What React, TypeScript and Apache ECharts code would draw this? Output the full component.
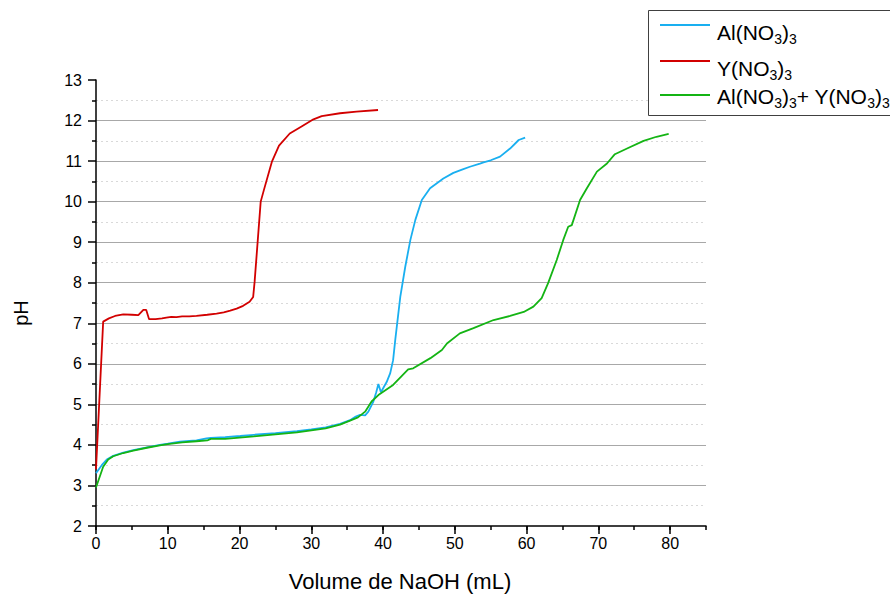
import React, { useEffect, useRef } from 'react';
import * as echarts from 'echarts';

const FONT = "'Liberation Sans', Arial, sans-serif";

// Al(NO3)3 titration
const alVol = [0, 0.8, 1.5, 2.4, 3.8, 5.2, 7.1, 8.9, 10, 11.7, 13, 14, 15.4, 16, 18, 20.1, 22, 25, 28, 30, 32, 34, 35.4, 36.2, 36.8, 37.5, 37.95, 38.65, 39.05, 39.35, 39.7, 40.5, 41.0, 41.4, 41.7, 42.4, 43.1, 43.8, 44.5, 45.4, 46.55, 48.4, 49.8, 51, 52.1, 53.5, 54.0, 55, 56.3, 57.7, 58.9, 59.8];
const alPH = [3.3, 3.5, 3.64, 3.73, 3.81, 3.87, 3.94, 4.0, 4.03, 4.08, 4.1, 4.11, 4.16, 4.17, 4.19, 4.22, 4.25, 4.29, 4.34, 4.38, 4.43, 4.52, 4.61, 4.7, 4.74, 4.73, 4.82, 5.07, 5.3, 5.5, 5.3, 5.55, 5.77, 6.09, 6.59, 7.65, 8.4, 9.05, 9.55, 10.04, 10.33, 10.57, 10.71, 10.79, 10.86, 10.94, 10.97, 11.02, 11.11, 11.31, 11.52, 11.58];

// Y(NO3)3 titration
const yVol = [0, 1.0, 1.8, 2.65, 3.8, 5.0, 5.9, 6.6, 7.0, 7.4, 8.3, 9.2, 9.8, 10.5, 11.2, 12, 13, 14.0, 15.5, 16.8, 17.8, 18.7, 19.6, 20.5, 21.4, 21.9, 22.1, 22.95, 23.4, 24.5, 25.5, 27.0, 28.7, 30.3, 31.45, 34.0, 36.3, 39.3];
const yPH = [3.4, 7.04, 7.12, 7.18, 7.22, 7.21, 7.2, 7.33, 7.33, 7.1, 7.1, 7.12, 7.14, 7.16, 7.15, 7.17, 7.17, 7.18, 7.21, 7.24, 7.27, 7.31, 7.36, 7.43, 7.53, 7.65, 8.02, 10.0, 10.29, 10.98, 11.38, 11.68, 11.86, 12.03, 12.11, 12.18, 12.22, 12.26];

// Al(NO3)3 + Y(NO3)3 titration
const mixVol = [0, 1.0, 1.7, 2.4, 3.8, 5.2, 7.1, 8.9, 10, 12, 14, 15.5, 16, 18, 20, 22, 25, 28, 30, 32, 34, 35.4, 36.5, 37.5, 38.4, 39.35, 41.4, 43.5, 44.2, 46.6, 48.2, 48.9, 50.7, 52.6, 55.4, 57.7, 59.6, 60.95, 62.1, 63.0, 64.2, 65.1, 65.8, 66.3, 67.45, 68.4, 69.8, 71.2, 72.3, 74.0, 76.3, 78.1, 79.8];
const mixPH = [2.95, 3.46, 3.64, 3.72, 3.8, 3.86, 3.93, 3.99, 4.02, 4.06, 4.09, 4.11, 4.15, 4.15, 4.18, 4.21, 4.26, 4.31, 4.36, 4.41, 4.5, 4.6, 4.68, 4.82, 5.07, 5.23, 5.48, 5.86, 5.89, 6.14, 6.34, 6.5, 6.75, 6.88, 7.08, 7.18, 7.28, 7.41, 7.62, 7.99, 8.56, 9.05, 9.38, 9.42, 10.04, 10.33, 10.74, 10.94, 11.17, 11.31, 11.5, 11.6, 11.67];

const xTickValues = [0, 10, 20, 30, 40, 50, 60, 70, 80];
const yTickValues = [2, 3, 4, 5, 6, 7, 8, 9, 10, 11, 12, 13];

const seriesNames = ['Al(NO3)3', 'Y(NO3)3', 'Al(NO3)3+ Y(NO3)3'];
const legendRich = ['Al(NO{s|3}){s|3}', 'Y(NO{s|3}){s|3}', 'Al(NO{s|3}){s|3}+ Y(NO{s|3}){s|3}'];
const colors = ['#19AFF0', '#D20000', '#14B414'];

export default function App() {
  const ref = useRef<HTMLDivElement>(null);
  useEffect(() => {
    const chart = echarts.init(ref.current!, null, { renderer: 'svg' });
    const pairs = (xs: number[], ys: number[]) => xs.map((x, i) => [x, ys[i]]);
    const gridColors = yTickValues.map((v) => (v === 2 || v === 13 ? 'rgba(0,0,0,0)' : '#a8a8a8'));
    const axisLineStyle = { color: '#000', width: 1.5 };
    const legendY = [25, 61, 95];
    const textY = [32, 68, 96];
    const legendGraphics: any[] = [
      {
        type: 'rect',
        shape: { x: 648.5, y: 10.5, width: 300, height: 105 },
        style: { fill: '#fff', stroke: '#404040', lineWidth: 1 },
        z: 10,
      },
    ];
    seriesNames.forEach((_, i) => {
      legendGraphics.push({
        type: 'line',
        shape: { x1: 660, y1: legendY[i], x2: 710, y2: legendY[i] },
        style: { stroke: colors[i], lineWidth: 2 },
        z: 11,
      });
      legendGraphics.push({
        type: 'text',
        x: 717,
        y: textY[i],
        style: {
          text: legendRich[i],
          fontSize: 21,
          fontFamily: FONT,
          fill: '#000',
          lineHeight: 28,
          verticalAlign: 'middle',
          align: 'left',
          rich: {
            s: { fontSize: 14, lineHeight: 14, verticalAlign: 'bottom', fontFamily: FONT, fill: '#000' },
          },
        },
        z: 11,
      });
    });

    chart.setOption({
      animation: false,
      backgroundColor: '#fff',
      grid: { left: 96, top: 80, width: 610, height: 446, containLabel: false },
      xAxis: [
        {
          type: 'value',
          min: 0,
          max: 85,
          interval: 5,
          axisLine: { show: true, onZero: false, lineStyle: axisLineStyle },
          axisTick: { show: true, length: 4, lineStyle: axisLineStyle },
          axisLabel: {
            fontSize: 16,
            color: '#000',
            fontFamily: FONT,
            margin: 9,
            formatter: (v: number) => (xTickValues.indexOf(v) >= 0 ? String(v) : ''),
          },
          splitLine: { show: false },
        },
        {
          type: 'value',
          min: 0,
          max: 85,
          interval: 10,
          position: 'bottom',
          axisLine: { show: false },
          axisTick: { show: true, length: 8, lineStyle: axisLineStyle, customValues: xTickValues },
          axisLabel: { show: false },
          splitLine: { show: false },
        },
      ],
      yAxis: {
        type: 'value',
        min: 2,
        max: 13,
        interval: 1,
        axisLine: { show: true, onZero: false, lineStyle: axisLineStyle },
        axisTick: { show: true, length: 8, lineStyle: axisLineStyle },
        minorTick: { show: true, splitNumber: 2, length: 4, lineStyle: axisLineStyle },
        axisLabel: { fontSize: 16, color: '#000', fontFamily: FONT, margin: 14 },
        splitLine: { show: true, lineStyle: { color: gridColors, width: 1 } },
        minorSplitLine: { show: true, lineStyle: { color: '#d9d9d9', width: 1, type: [2, 3] } },
      },
      series: [
        { name: seriesNames[0], data: pairs(alVol, alPH), color: colors[0] },
        { name: seriesNames[1], data: pairs(yVol, yPH), color: colors[1] },
        { name: seriesNames[2], data: pairs(mixVol, mixPH), color: colors[2] },
      ].map((s) => ({
        ...s,
        type: 'line',
        xAxisIndex: 0,
        showSymbol: false,
        symbol: 'none',
        lineStyle: { width: 1.8, color: s.color },
      })),
      graphic: [
        ...legendGraphics,
        {
          type: 'text',
          x: 21,
          y: 313,
          rotation: Math.PI / 2,
          style: { text: 'pH', fontSize: 20, fontFamily: FONT, fill: '#000', align: 'center', verticalAlign: 'middle' },
        },
        {
          type: 'text',
          x: 400,
          y: 581,
          style: {
            text: 'Volume de NaOH (mL)',
            fontSize: 22,
            fontFamily: FONT,
            fill: '#000',
            align: 'center',
            verticalAlign: 'middle',
          },
        },
      ],
    });
    return () => chart.dispose();
  }, []);
  return <div ref={ref} style={{ position: 'fixed', left: 0, top: 0, width: 890, height: 596 }} />;
}
